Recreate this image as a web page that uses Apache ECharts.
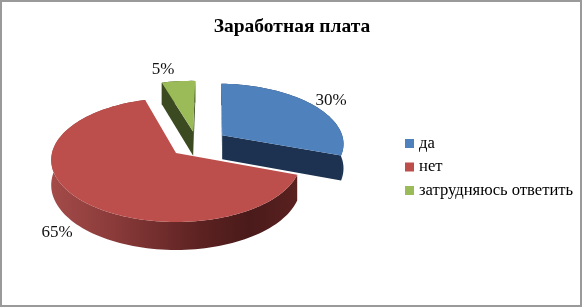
<!DOCTYPE html>
<html><head><meta charset="utf-8">
<style>html,body{margin:0;padding:0;background:#fff}#c{width:582px;height:307px}</style>
<script src="https://cdn.jsdelivr.net/npm/echarts@6/dist/echarts.min.js"></script>
</head><body><div id="c"></div>
<script>
const categories = ['да', 'нет', 'затрудняюсь ответить'];
const values = [30, 65, 5];
const topColors = ['#4f81bd', '#bc4f4c', '#9bbb59'];
const sideColors = ['#1c3250', '#5a2020', '#3b4a20'];
const explode = [[0.385, -0.30], [0, 0], [0.144, -0.36]];
const labelPos = [[331, 101], [57, 233], [163, 70]];
const startDeg = 2;

const CX = 176, CY = 153, RX = 124, RY = 61.2, P = 0.113, D = 24.8;
function proj(u, v) {
  const k = 1 / (1 - P * v);
  return [CX + RX * u * k, CY + RY * v * k, D * k];
}
const total = values.reduce((a, b) => a + b, 0);
function angles(i) {
  let a = startDeg;
  for (let j = 0; j < i; j++) a += values[j] / total * 360;
  return [a, a + values[i] / total * 360];
}
function arc(i) {
  const [a0, a1] = angles(i), [ou, ov] = explode[i], pts = [];
  const n = Math.max(8, Math.round((a1 - a0) / 2));
  for (let s = 0; s <= n; s++) {
    const t = (a0 + (a1 - a0) * s / n) * Math.PI / 180;
    pts.push(proj(ou + Math.sin(t), ov - Math.cos(t)));
  }
  return pts;
}
function down(p) { return [p[0], p[1] + p[2]]; }
function xy(p) { return [p[0], p[1]]; }

function sideFill(i) {
  if (i !== 1) return sideColors[i];
  return new echarts.graphic.LinearGradient(52, 0, 298, 0, [
    { offset: 0, color: '#a34b49' },
    { offset: 0.25, color: '#8a3b3a' },
    { offset: 0.6, color: '#5c2221' },
    { offset: 0.8, color: '#4a1a1a' },
    { offset: 1, color: '#5a2120' }
  ], true);
}

function renderSlice(i) {
  return function () {
    const pts = arc(i);
    const apex = proj(explode[i][0], explode[i][1]);
    const children = [];
    children.push({ type: 'polygon', shape: { points: pts.map(xy).concat(pts.slice().reverse().map(down)) },
      style: { fill: sideFill(i) }, silent: true });
    if (i !== 1) {
      [pts[0], pts[pts.length - 1]].forEach(e => {
        children.push({ type: 'polygon',
          shape: { points: [xy(apex), xy(e), down(e), down(apex)] },
          style: { fill: sideColors[i] }, silent: true });
      });
    }
    children.push({ type: 'polygon', shape: { points: [xy(apex)].concat(pts.map(xy)) },
      style: { fill: topColors[i] }, silent: true });
    children.push({ type: 'text', x: labelPos[i][0], y: labelPos[i][1],
      style: { text: values[i] + '%', fill: '#111', align: 'center', verticalAlign: 'middle',
        font: '17px "Liberation Serif"' }, silent: true });
    return { type: 'group', children };
  };
}

const order = [2, 0, 1];
const chart = echarts.init(document.getElementById('c'), null, { renderer: 'canvas' });
chart.setOption({
  animation: false,
  backgroundColor: '#fff',
  graphic: [{ type: 'rect', shape: { x: 1, y: 1, width: 580, height: 305 }, z: 100, silent: true,
    style: { fill: 'none', stroke: '#9a9a9a', lineWidth: 2 } }],
  title: { text: 'Заработная плата', left: 287, top: 12, textAlign: 'center',
    textStyle: { fontFamily: 'Liberation Serif', fontWeight: 'bold', fontSize: 19.5, color: '#000' } },
  legend: {
    orient: 'vertical', left: 405, top: 135, padding: 0, itemWidth: 9, itemHeight: 9, itemGap: 6.5,
    data: categories.map(name => ({ name, icon: 'rect' })),
    textStyle: { fontFamily: 'Liberation Serif', fontSize: 16.6, color: '#000' }
  },
  series: order.map(i => ({
    type: 'custom', name: categories[i], coordinateSystem: 'none',
    itemStyle: { color: topColors[i] },
    data: [values[i]], renderItem: renderSlice(i), silent: true
  }))
});
</script></body></html>
